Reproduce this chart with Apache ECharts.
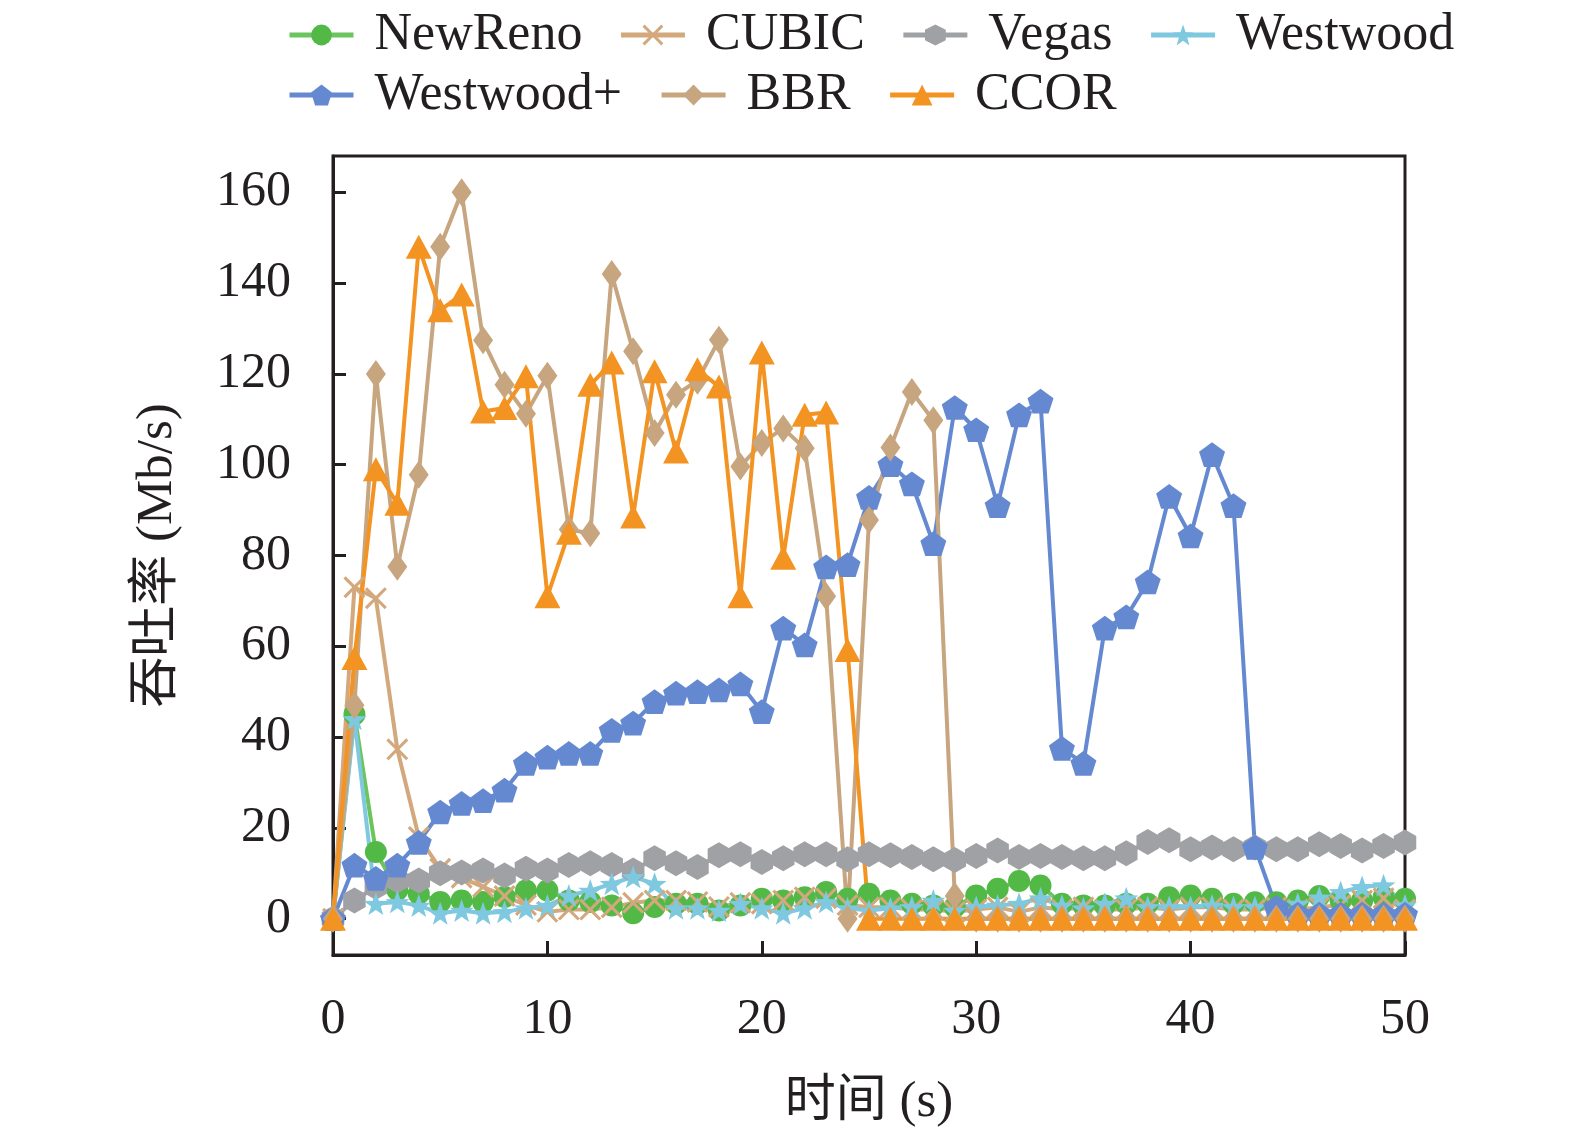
<!DOCTYPE html>
<html>
<head>
<meta charset="utf-8">
<title>吞吐率</title>
<script src="https://cdn.jsdelivr.net/npm/echarts@6/dist/echarts.min.js"></script>
<style>
  html, body { margin: 0; padding: 0; background: #fff; }
  #chart { width: 1575px; height: 1136px; }
</style>
</head>
<body>
<div id="chart"></div>
<script>
// 时间轴 (s)
var times = [0, 1, 2, 3, 4, 5, 6, 7, 8, 9, 10, 11, 12, 13, 14, 15, 16, 17, 18, 19, 20,
  21, 22, 23, 24, 25, 26, 27, 28, 29, 30, 31, 32, 33, 34, 35, 36, 37, 38, 39, 40,
  41, 42, 43, 44, 45, 46, 47, 48, 49, 50];

// 吞吐率 (Mb/s)
var newReno = [0, 45, 14.7, 6.3, 5.5, 3.7, 4, 3.7, 4.8, 6.2, 6.2, 4, 3.7, 2.9, 1.2, 2.6, 3.3, 3.3, 1.8, 2.9, 4.4,
  4, 4.7, 5.9, 4.4, 5.5, 4, 3.3, 2.9, 2.6, 5.1, 6.6, 8.3, 7.3, 3.3, 2.9, 2.9, 3.3, 3.3, 4.7, 5.1,
  4.4, 3.3, 3.6, 3.6, 4, 5, 4, 4, 4.7, 4.4];
var cubic = [0, 73, 70.6, 37.3, 18, 11, 9, 7, 5, 3, 1.5, 2, 2, 2.5, 3.5, 4, 4, 3.7, 2.6, 3.5, 3.3,
  4, 4.7, 4.5, 3, 2.5, 2.5, 2, 2, 1.5, 2, 2.5, 1.5, 2.5, 2, 2.5, 2, 2, 2.5, 2, 2.5,
  2.5, 2, 2, 2.5, 2, 2.5, 3, 4, 4.5, 2];
var vegas = [0, 4, 7, 8.4, 8.4, 10, 10.2, 10.6, 9.5, 11, 10.6, 11.8, 12.2, 11.8, 10.6, 13.3, 12.2, 11.4, 14, 14.2, 12.5,
  13.3, 14.2, 14.2, 13.1, 14.2, 14, 13.6, 13.1, 12.9, 13.8, 15, 13.6, 13.8, 13.6, 13.3, 13.3, 14.4, 16.9, 17.3, 15.3,
  15.7, 15.3, 15.7, 15.3, 15.3, 16.4, 16, 15, 16, 16.8];
var westwood = [0, 44, 3.3, 3.7, 2.9, 1.2, 1.8, 1.2, 1.5, 2.3, 2.9, 5.1, 6.2, 7.7, 9.2, 7.7, 2.3, 2.3, 1.8, 3.3, 2.3,
  1.2, 2.3, 3.7, 2.3, 1.8, 2.3, 2.6, 4, 1.8, 2.6, 2.9, 3.3, 4.5, 2.9, 2.3, 3.3, 4.5, 2.6, 2.6, 2.6,
  2.9, 2.6, 2.6, 2.6, 3.3, 4.7, 5.9, 7, 7.4, 3];
var westwoodPlus = [0, 11.8, 8.9, 11.8, 16.8, 23.5, 25.4, 26, 28.3, 34.2, 35.6, 36.4, 36.4, 41.5, 43.1, 47.8, 49.7, 50, 50.4, 51.7, 45.6,
  64, 60.3, 77.5, 78, 92.8, 100, 95.8, 82.6, 112.6, 107.7, 91, 111, 114, 37.5, 34.2, 64, 66.5, 74.2, 93, 84.3,
  102.2, 91, 15.7, 2.5, 1, 1, 1, 1, 1, 1];
var bbr = [0, 47, 120, 77.5, 97.8, 148, 160, 127.4, 117.6, 111.2, 119.6, 85.7, 84.9, 142, 125, 107, 115.4, 118.5, 127.5, 99.6, 104.8,
  108, 103.6, 71, 0, 87.8, 103.8, 116, 109.8, 5, 0, 0, 0, 0, 0, 0, 0, 0, 0, 0, 0,
  0, 0, 0, 0, 0, 0, 0, 0, 0, 0];
var ccor = [0, 57.4, 99, 91.4, 148, 134, 137.5, 111.7, 112.5, 119.5, 71, 85, 117.6, 122.5, 88.6, 120.6, 102.9, 121, 117.2, 71, 124.7,
  79.5, 111, 111.5, 59.2, 0, 0, 0, 0, 0, 0, 0, 0, 0, 0, 0, 0, 0, 0, 0, 0,
  0, 0, 0, 0, 0, 0, 0, 0, 0, 0];

var xTicks = [0, 10, 20, 30, 40, 50];
var yTicks = [0, 20, 40, 60, 80, 100, 120, 140, 160];

// 自定义标记形状
var pentagon = 'path://M0,-10L9.51,-3.09L5.88,8.09L-5.88,8.09L-9.51,-3.09Z';
var hexagon = 'path://M0,-10L8.66,-5L8.66,5L0,10L-8.66,5L-8.66,-5Z';
var star = 'path://M0,-10L2.35,-3.24L9.51,-3.09L3.8,1.24L5.88,8.09L0,4L-5.88,8.09L-3.8,1.24L-9.51,-3.09L-2.35,-3.24Z';
var cross = 'path://M-10,-8L-8,-10L0,-2L8,-10L10,-8L2,0L10,8L8,10L0,2L-8,10L-10,8L-2,0Z';

var fontFamily = '"Liberation Serif", "Noto Sans CJK SC", serif';
var axisColor = '#231f20';

function pairs(values) {
  return times.map(function (t, i) { return [t, values[i]]; });
}

function makeSeries(name, values, color, symbol, size, opt) {
  return echarts.util.merge({
    type: 'line',
    name: name,
    data: pairs(values),
    symbol: symbol,
    symbolSize: size,
    symbolKeepAspect: true,
    showAllSymbol: true,
    lineStyle: { width: 4, color: color },
    itemStyle: { color: color },
    emphasis: { disabled: true }
  }, opt || {}, true);
}

var legendText = { fontSize: 52, fontFamily: fontFamily, color: axisColor, padding: [0, 0, 0, 16] };

var option = {
  animation: false,
  backgroundColor: '#fff',
  legend: [{
    data: ['NewReno', 'CUBIC', 'Vegas', 'Westwood'],
    left: 282,
    top: 4,
    itemWidth: 64,
    itemHeight: 26,
    itemGap: 36,
    lineStyle: { width: 5 },
    textStyle: legendText
  }, {
    data: ['Westwood+', 'BBR', 'CCOR'],
    left: 282,
    top: 64,
    itemWidth: 64,
    itemHeight: 26,
    itemGap: 37,
    lineStyle: { width: 5 },
    textStyle: legendText
  }],
  grid: {
    left: 333,
    right: 170,
    top: 156,
    bottom: 181,
    show: true,
    borderColor: axisColor,
    borderWidth: 3
  },
  xAxis: {
    type: 'value',
    min: 0,
    max: 50,
    name: '时间 (s)',
    nameLocation: 'middle',
    nameGap: 122,
    nameTextStyle: { fontSize: 51, fontFamily: fontFamily, color: axisColor },
    axisLine: { onZero: false, lineStyle: { color: axisColor, width: 3 } },
    axisTick: { inside: true, length: 14, lineStyle: { width: 3, color: axisColor }, customValues: xTicks },
    axisLabel: { fontSize: 50, fontFamily: fontFamily, color: axisColor, margin: 40, customValues: xTicks },
    splitLine: { show: false }
  },
  yAxis: {
    type: 'value',
    min: -8,
    max: 168,
    name: '吞吐率 (Mb/s)',
    nameLocation: 'middle',
    nameGap: 150,
    nameTextStyle: { fontSize: 51, fontFamily: fontFamily, color: axisColor },
    axisLine: { lineStyle: { color: axisColor, width: 3 } },
    axisTick: { inside: true, length: 13, lineStyle: { width: 3, color: axisColor }, customValues: yTicks },
    axisLabel: { fontSize: 50, fontFamily: fontFamily, color: axisColor, margin: 42, customValues: yTicks },
    splitLine: { show: false }
  },
  series: [
    makeSeries('NewReno', newReno, '#52b947', 'circle', 22, { lineStyle: { color: '#6cc45e' } }),
    makeSeries('CUBIC', cubic, '#d2a87c', cross, 22),
    makeSeries('Vegas', vegas, '#a0a1a5', hexagon, 26),
    makeSeries('Westwood', westwood, '#7ec8e0', star, 24),
    makeSeries('Westwood+', westwoodPlus, '#6589d1', pentagon, 26),
    makeSeries('BBR', bbr, '#c7a57f', 'diamond', [20, 28]),
    makeSeries('CCOR', ccor, '#f39322', 'triangle', [26, 24])
  ]
};

var chart = echarts.init(document.getElementById('chart'));
chart.setOption(option);
</script>
</body>
</html>
